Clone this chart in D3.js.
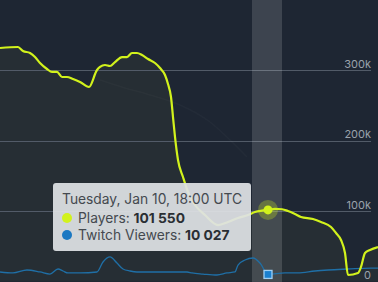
<!DOCTYPE html>
<html>
<head>
<meta charset="utf-8">
<script src="https://d3js.org/d3.v7.min.js"></script>
<style>
  html, body { margin: 0; padding: 0; background: #1e2633; }
  svg { display: block; font-family: Inter, "Noto Sans", sans-serif; }
</style>
</head>
<body>
<svg width="378" height="282"></svg>
<script>
// hours relative to Tuesday, Jan 10, 18:00 UTC
var playerHours = [-53.6, -50, -49, -47.6, -46.6, -45.6, -44.2, -43.2, -42.2, -41.2, -40.2, -39, -37.6, -35.8,
  -34.2, -33.6, -32.6, -31.6, -30.6, -29.2, -28.2, -27.2, -26.2, -25.2, -24, -22.6, -21.6, -20.6, -20, -19.4,
  -19, -18.6, -18, -17, -16, -14.6, -12.6, -10, -8, -6, -4, -2.6, -1.2, 0, 1.4, 2.8, 4, 5.4, 6.6, 9, 10.6,
  12.6, 13.6, 14.6, 15.4, 16, 18, 18.6, 19.4, 20.4, 22];
var players = [331200, 332600, 326900, 324100, 318400, 309900, 301400, 297200, 297200, 290100, 290100, 287200, 283000, 275900,
  300000, 304300, 307100, 305700, 311300, 318400, 318400, 324100, 324100, 321300, 315600, 309900, 302800, 292900, 280100, 261700,
  233300, 205000, 172300, 148200, 126900, 108500, 94300, 80100, 84400, 90100, 94300, 98600, 100500, 101550, 103000, 102500, 100000, 95700, 91500, 88600, 84400,
  77300, 68800, 58900, 40400, 9200, 12100, 20600, 40400, 44700, 48900];

var viewerHours = [-53.6, -51, -48.2, -45.6, -43.6, -42, -41, -40, -37.6, -34.2, -33, -31.6, -30.2, -29, -27.6, -26.2,
  -23, -19.6, -16.2, -15.2, -13, -10.2, -8.2, -6.6, -6, -4.6, -3, -1.6, 0, 3.4, 6, 9.4, 12, 16, 20.6, 22];
var viewers = [13500, 12100, 16300, 13500, 10600, 17700, 14900, 12100, 12100, 13500, 27700, 34800, 26200, 17700, 14900, 13500,
  13500, 13500, 13500, 12100, 10600, 9200, 12100, 13500, 23400, 30500, 33300, 26200, 10027, 12100, 12100, 14900, 16300, 17700, 19100, 19100];

// faint comparison line behind the chart
var ghostHours = [-33.6, -28.6, -23.6, -17.6, -11.6, -7.6, -4.2];
var ghost = [285800, 274500, 264500, 250300, 226200, 200700, 176600];

var yTicks = [0, 100000, 200000, 300000];
var hoverHour = 0;
var hoverLabel = "Tuesday, Jan 10, 18:00 UTC";

var svg = d3.select("svg");
var W = 378, H = 282;

var x = d3.scaleLinear().domain([-53.6, 22]).range([0, W]);
var y = d3.scaleLinear().domain([0, 400000]).range([281.5, -0.5]);

var pData = playerHours.map(function(h, i) { return [h, players[i]]; });
var vData = viewerHours.map(function(h, i) { return [h, viewers[i]]; });
var gData = ghostHours.map(function(h, i) { return [h, ghost[i]]; });

// area under players
var area = d3.area().x(function(d) { return x(d[0]); }).y0(y(0)).y1(function(d) { return y(d[1]); })
  .curve(d3.curveMonotoneX);
svg.append("path").datum(pData).attr("d", area)
  .attr("fill", "rgba(170,190,60,0.06)");

// grid lines
svg.append("g").selectAll("line").data(yTicks.slice(1)).enter().append("line")
  .attr("x1", 0).attr("x2", 371)
  .attr("y1", function(d) { return Math.round(y(d)) + 0.5; })
  .attr("y2", function(d) { return Math.round(y(d)) + 0.5; })
  .attr("stroke", "#525b68").attr("stroke-width", 1);

// hover band (6 hours wide)
svg.append("rect")
  .attr("x", x(hoverHour - 3.2)).attr("width", x(3) - x(-3))
  .attr("y", 0).attr("height", H)
  .attr("fill", "rgba(255,255,255,0.14)");

// ghost line
svg.append("path").datum(gData)
  .attr("d", d3.line().x(function(d) { return x(d[0]); }).y(function(d) { return y(d[1]); }).curve(d3.curveMonotoneX))
  .attr("fill", "none").attr("stroke", "rgba(255,255,255,0.025)").attr("stroke-width", 1.5);

// y axis labels on the right
var yAxis = d3.axisLeft(y).tickValues(yTicks).tickSize(0)
  .tickFormat(function(d) { return d === 0 ? "0" : (d / 1000) + "k"; });
var ga = svg.append("g").attr("transform", "translate(371,0)").call(yAxis);
ga.select(".domain").remove();
ga.selectAll("text").attr("fill", "#9aa2ab").attr("font-size", 11)
  .attr("font-family", "Inter, sans-serif").attr("x", 0).attr("dy", -3);

var line = d3.line().x(function(d) { return x(d[0]); }).y(function(d) { return y(d[1]); }).curve(d3.curveMonotoneX);

// twitch viewers
svg.append("path").datum(vData).attr("d", line)
  .attr("fill", "none").attr("stroke", "#1f6fa6").attr("stroke-width", 1.3);

// players
svg.append("path").datum(pData).attr("d", line)
  .attr("fill", "none").attr("stroke", "#d2f21c").attr("stroke-width", 2.2);

// hover markers
var hx = x(hoverHour);
svg.append("circle").attr("cx", hx).attr("cy", y(101550)).attr("r", 10)
  .attr("fill", "rgba(210,242,28,0.28)");
svg.append("circle").attr("cx", hx).attr("cy", y(101550)).attr("r", 4.5)
  .attr("fill", "#d2f21c");
svg.append("rect").attr("x", hx - 4).attr("y", y(10027) - 4).attr("width", 8).attr("height", 8)
  .attr("fill", "#1a80d0").attr("stroke", "#9fd0f5").attr("stroke-width", 1.3);

// tooltip
var tip = svg.append("g").attr("transform", "translate(53,183)");
tip.append("rect").attr("width", 198).attr("height", 68).attr("rx", 3)
  .attr("fill", "#dfe2e5").attr("fill-opacity", 0.93);
tip.append("text").attr("x", 9).attr("y", 21).attr("font-size", 13.8).attr("fill", "#44494f")
  .text(hoverLabel);
tip.append("circle").attr("cx", 14).attr("cy", 35).attr("r", 5).attr("fill", "#d2f21c");
var t1 = tip.append("text").attr("x", 25).attr("y", 40).attr("font-size", 13.8).attr("fill", "#44494f");
t1.append("tspan").text("Players: ");
t1.append("tspan").attr("font-weight", "bold").attr("fill", "#2a2e33").text("101 550");
tip.append("circle").attr("cx", 14).attr("cy", 52).attr("r", 5).attr("fill", "#1a78c2");
var t2 = tip.append("text").attr("x", 25).attr("y", 57).attr("font-size", 13.8).attr("fill", "#44494f");
t2.append("tspan").text("Twitch Viewers: ");
t2.append("tspan").attr("font-weight", "bold").attr("fill", "#2a2e33").text("10 027");
</script>
</body>
</html>
